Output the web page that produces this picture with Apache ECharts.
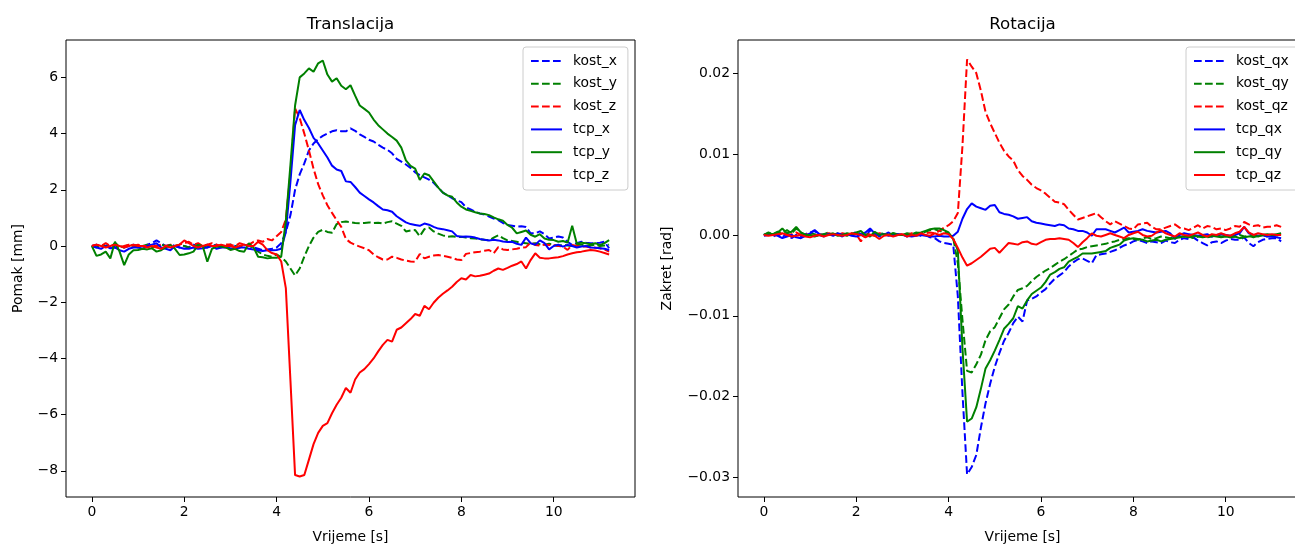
<!DOCTYPE html>
<html><head><meta charset="utf-8">
<script src="https://cdn.jsdelivr.net/npm/echarts@6/dist/echarts.min.js"></script>
<style>html,body{margin:0;padding:0;background:#fff}#c{width:1295px;height:544px}</style>
</head><body><div id="c"></div>
<script>
const T = [0.0,0.1,0.2,0.3,0.4,0.5,0.6,0.7,0.8,0.9,
1.0,1.1,1.2,1.3,1.4,1.5,1.6,1.7,1.8,1.9,
2.0,2.1,2.2,2.3,2.4,2.5,2.6,2.7,2.8,2.9,
3.0,3.1,3.2,3.3,3.4,3.5,3.6,3.7,3.8,3.9,
4.0,4.1,4.2,4.3,4.4,4.5,4.6,4.7,4.8,4.9,
5.0,5.1,5.2,5.3,5.4,5.5,5.6,5.7,5.8,5.9,
6.0,6.1,6.2,6.3,6.4,6.5,6.6,6.7,6.8,6.9,
7.0,7.1,7.2,7.3,7.4,7.5,7.6,7.7,7.8,7.9,
8.0,8.1,8.2,8.3,8.4,8.5,8.6,8.7,8.8,8.9,
9.0,9.1,9.2,9.3,9.4,9.5,9.6,9.7,9.8,9.9,
10.0,10.1,10.2,10.3,10.4,10.5,10.6,10.7,10.8,10.9,
11.0,11.1,11.2];

// ---- Translacija [mm] ----
const kostX = [0.0,0.05,-0.05,0.0,0.05,-0.05,0.0,-0.05,0.0,0.05,
0.0,-0.05,0.05,0.1,0.2,0.1,0.0,0.05,0.0,-0.05,
0.0,-0.05,0.05,0.0,-0.05,0.05,0.0,0.05,-0.05,0.0,
0.05,0.0,-0.05,0.05,0.0,-0.05,-0.1,-0.15,-0.12,-0.1,
-0.05,0.1,0.5,1.1,2.0,2.55,2.94,3.4,3.65,3.8,
3.92,4.0,4.08,4.12,4.08,4.08,4.19,4.1,3.97,3.88,
3.78,3.72,3.6,3.5,3.42,3.3,3.1,3.0,2.9,2.78,
2.62,2.52,2.44,2.36,2.25,2.08,1.9,1.8,1.7,1.63,
1.56,1.38,1.3,1.22,1.16,1.12,1.05,0.98,0.92,0.82,
0.75,0.72,0.69,0.7,0.68,0.45,0.45,0.52,0.42,0.27,
0.3,0.34,0.3,0.15,0.04,0.1,0.15,0.12,0.1,0.1,
0.12,0.15,-0.08];
const kostY = [0.0,-0.05,0.05,0.0,-0.05,0.1,0.0,-0.05,0.05,0.0,
-0.05,0.0,0.05,-0.05,0.0,0.05,0.0,-0.05,0.0,0.05,
0.0,-0.05,0.0,0.05,0.0,-0.05,0.05,0.0,-0.05,0.0,
0.05,0.0,-0.05,0.0,0.05,-0.1,-0.2,-0.3,-0.35,-0.38,
-0.3,-0.4,-0.55,-0.8,-1.05,-0.8,-0.38,0.0,0.3,0.5,
0.58,0.5,0.47,0.78,0.85,0.87,0.85,0.82,0.81,0.82,
0.84,0.82,0.83,0.8,0.85,0.88,0.8,0.72,0.52,0.55,
0.57,0.35,0.6,0.66,0.52,0.44,0.38,0.33,0.35,0.32,
0.33,0.3,0.28,0.27,0.24,0.22,0.2,0.3,0.38,0.28,
0.2,0.18,0.15,0.12,0.1,0.08,0.1,0.06,0.05,0.08,
0.05,0.0,0.05,0.02,0.0,0.03,0.05,0.0,0.02,0.05,
0.0,0.02,0.05];
const kostZ = [0.0,0.05,0.0,0.1,0.0,0.05,-0.05,0.0,0.05,0.0,
0.05,0.0,0.0,0.05,0.0,0.05,0.0,0.05,0.0,0.05,
0.1,0.15,0.05,0.1,0.0,0.05,0.1,0.05,0.0,0.05,
0.05,0.0,0.1,0.05,0.05,0.15,0.2,0.15,0.25,0.2,
0.35,0.5,0.95,2.6,4.9,4.55,4.0,3.4,2.75,2.2,
1.8,1.45,1.18,0.92,0.68,0.25,0.12,0.04,-0.02,-0.08,
-0.15,-0.3,-0.4,-0.48,-0.48,-0.38,-0.42,-0.48,-0.52,-0.55,
-0.56,-0.28,-0.44,-0.38,-0.34,-0.32,-0.35,-0.38,-0.42,-0.48,
-0.5,-0.28,-0.25,-0.22,-0.2,-0.17,-0.14,-0.26,-0.04,-0.12,
-0.14,-0.12,-0.1,-0.06,-0.04,0.12,0.04,0.02,0.05,0.04,
0.03,0.0,-0.02,-0.14,0.04,0.0,-0.02,-0.02,-0.05,-0.06,
-0.08,-0.12,-0.2];
const tcpX = [0.0,-0.05,-0.1,0.0,-0.08,-0.05,-0.15,-0.2,-0.1,-0.05,
-0.05,-0.1,0.0,0.05,0.1,-0.05,-0.1,-0.15,0.0,-0.05,
-0.1,-0.1,-0.05,-0.1,-0.08,-0.05,0.0,-0.1,-0.05,-0.05,
-0.08,-0.1,-0.05,-0.05,-0.1,-0.12,-0.15,-0.18,-0.15,-0.15,
-0.14,-0.1,0.5,2.3,4.3,4.84,4.48,4.2,3.85,3.65,
3.4,3.15,2.86,2.72,2.67,2.3,2.28,2.1,1.9,1.78,
1.66,1.55,1.42,1.3,1.27,1.22,1.06,0.95,0.84,0.78,
0.75,0.72,0.8,0.76,0.68,0.62,0.6,0.56,0.52,0.36,
0.33,0.34,0.33,0.3,0.25,0.22,0.2,0.22,0.2,0.16,
0.14,0.15,0.08,0.04,0.3,0.1,0.04,0.2,0.1,-0.12,
0.0,0.05,-0.02,0.04,0.0,-0.05,-0.02,0.0,-0.05,-0.06,
-0.08,-0.1,-0.14];
const tcpY = [0.0,-0.35,-0.3,-0.2,-0.44,0.15,-0.2,-0.68,-0.3,-0.15,
-0.14,-0.1,-0.12,-0.08,-0.2,-0.15,-0.05,0.04,-0.1,-0.32,
-0.3,-0.26,-0.2,0.04,0.0,-0.56,-0.1,-0.02,-0.02,-0.05,
-0.14,-0.1,-0.18,-0.2,0.1,-0.05,-0.38,-0.4,-0.44,-0.42,
-0.42,-0.38,0.9,2.9,5.0,6.0,6.14,6.32,6.2,6.5,
6.6,6.1,5.85,5.97,5.7,5.58,5.72,5.35,5.0,4.88,
4.75,4.5,4.3,4.15,4.0,3.88,3.75,3.5,3.05,2.85,
2.75,2.35,2.58,2.52,2.3,2.08,1.9,1.8,1.75,1.55,
1.4,1.3,1.25,1.2,1.16,1.14,1.1,1.02,0.95,0.9,
0.75,0.65,0.45,0.5,0.55,0.4,0.33,0.42,0.27,0.22,
0.21,0.15,0.18,0.12,0.72,0.08,0.12,0.1,0.06,0.1,
0.03,0.1,0.21];
const tcpZ = [0.0,0.05,0.0,-0.05,0.0,0.05,0.0,-0.05,0.0,0.05,
0.0,0.0,-0.05,0.0,-0.05,-0.1,0.0,-0.05,0.0,0.05,
0.2,0.1,0.0,-0.05,0.0,0.05,0.0,0.0,0.05,0.0,
0.0,-0.05,0.0,0.05,0.0,0.0,0.15,0.05,-0.15,-0.25,
-0.3,-0.55,-1.5,-4.8,-8.15,-8.2,-8.15,-7.6,-7.05,-6.65,
-6.4,-6.3,-5.95,-5.65,-5.4,-5.05,-5.22,-4.75,-4.5,-4.38,
-4.2,-4.0,-3.75,-3.52,-3.34,-3.4,-2.98,-2.9,-2.75,-2.6,
-2.42,-2.48,-2.13,-2.25,-2.02,-1.84,-1.7,-1.58,-1.45,-1.28,
-1.15,-1.19,-1.03,-1.08,-1.06,-1.02,-0.98,-0.88,-0.8,-0.85,
-0.78,-0.7,-0.64,-0.55,-0.8,-0.5,-0.26,-0.42,-0.44,-0.44,
-0.42,-0.4,-0.36,-0.3,-0.26,-0.22,-0.2,-0.17,-0.14,-0.16,
-0.2,-0.25,-0.3];

// ---- Rotacija [rad] ----
const kostQx = [0.0,0.0002,-0.0002,0.0001,-0.0003,0.0002,-0.0004,0.0,-0.0002,0.0001,
0.0003,0.0005,0.0,-0.0002,0.0002,0.0,0.0001,-0.0002,0.0002,0.0,
0.0004,0.0001,-0.0003,0.0006,0.0002,-0.0002,0.0,0.0003,-0.0001,0.0,
0.0001,-0.0002,0.0,0.0002,-0.0001,0.0,-0.0003,-0.0004,-0.0008,-0.001,
-0.0011,-0.0012,-0.0076,-0.0195,-0.0296,-0.0287,-0.0272,-0.0238,-0.0208,-0.0184,
-0.0163,-0.0146,-0.0131,-0.0121,-0.0109,-0.0101,-0.0107,-0.0081,-0.0079,-0.0076,
-0.0071,-0.0067,-0.006,-0.0054,-0.005,-0.0046,-0.0039,-0.0034,-0.003,-0.0029,
-0.0032,-0.0035,-0.0025,-0.0024,-0.0023,-0.0021,-0.0019,-0.0016,-0.0013,-0.0011,
-0.0008,-0.0006,-0.0008,-0.001,-0.0008,-0.0009,-0.001,-0.0007,-0.0009,-0.001,
-0.0006,-0.0004,-0.0005,-0.0003,-0.0007,-0.001,-0.0013,-0.0009,-0.0008,-0.001,
-0.0007,-0.0005,-0.0006,-0.0006,-0.0003,-0.001,-0.0014,-0.0009,-0.0006,-0.0005,
-0.0004,-0.0004,-0.0008];
const kostQy = [0.0,0.0003,0.0001,0.0004,0.0002,0.0006,0.0002,0.0008,0.0003,0.0,
0.0002,0.0001,-0.0002,0.0001,0.0003,0.0,0.0002,0.0001,-0.0001,0.0002,
0.0001,0.0003,0.0,0.0002,-0.0001,0.0003,0.0001,0.0,0.0002,0.0001,
0.0,0.0002,0.0001,0.0003,0.0002,0.0004,0.0006,0.0007,0.0005,0.0003,
0.0002,-0.0004,-0.0035,-0.0105,-0.0168,-0.017,-0.016,-0.0148,-0.013,-0.0119,
-0.0114,-0.0103,-0.0092,-0.0086,-0.0076,-0.0068,-0.0066,-0.0063,-0.0057,-0.0052,
-0.0048,-0.0044,-0.0041,-0.0037,-0.0033,-0.003,-0.0026,-0.0022,-0.0018,-0.0017,
-0.0015,-0.0014,-0.0013,-0.0012,-0.0011,-0.0009,-0.0008,-0.0006,-0.0005,-0.0004,
-0.0005,-0.0006,-0.0004,-0.0003,-0.0005,-0.0004,-0.0002,-0.0003,-0.0004,-0.0002,
-0.0003,-0.0001,-0.0002,-0.0004,-0.0002,-0.0001,-0.0003,-0.0002,0.0,-0.0002,
-0.0001,-0.0003,-0.0002,0.0,-0.0002,-0.0001,-0.0003,-0.0001,0.0,-0.0002,
-0.0001,0.0,-0.0002];
const kostQz = [0.0,0.0001,-0.0001,0.0,0.0002,0.0,0.0001,0.0003,0.0,0.0001,
0.0,-0.0002,0.0001,0.0,0.0002,0.0001,0.0,0.0002,0.0001,0.0,
0.0001,-0.0008,0.0,0.0001,0.0,0.0002,0.0001,0.0,0.0002,0.0,
0.0001,0.0,0.0002,0.0001,0.0,0.0002,0.0003,0.0002,0.0005,0.0009,
0.0012,0.0017,0.0027,0.011,0.0217,0.0208,0.02,0.0178,0.0152,0.0138,
0.0126,0.0114,0.0104,0.0097,0.0092,0.008,0.0073,0.0068,0.0062,0.0058,
0.0055,0.0051,0.0046,0.0041,0.004,0.0038,0.0031,0.0025,0.0019,0.0021,
0.0023,0.0025,0.0027,0.0022,0.0017,0.0013,0.0017,0.0014,0.0011,0.0008,
0.0007,0.0013,0.0014,0.0015,0.001,0.0007,0.0007,0.0009,0.0011,0.0013,
0.0009,0.0008,0.0006,0.0009,0.0012,0.0008,0.0011,0.001,0.0007,0.0008,
0.0006,0.0008,0.0011,0.001,0.0016,0.0013,0.0011,0.0012,0.0009,0.001,
0.001,0.0012,0.001];
const tcpQx = [-0.0001,0.0,0.0001,-0.0001,-0.0004,-0.0002,0.0,-0.0003,-0.0004,-0.0001,
0.0002,0.0006,0.0001,0.0,0.0001,-0.0001,0.0002,0.0,0.0001,-0.0001,
-0.0002,0.0,0.0003,0.0008,0.0002,0.0,0.0001,-0.0001,0.0,0.0001,
0.0,-0.0001,-0.0002,-0.0001,0.0,-0.0001,-0.0002,-0.0002,-0.0001,-0.0002,
-0.0002,-0.0001,0.0004,0.002,0.0032,0.0039,0.0035,0.0033,0.0031,0.0036,
0.0037,0.0028,0.0026,0.0025,0.0023,0.002,0.0021,0.0022,0.0017,0.0015,
0.0014,0.0013,0.0012,0.0011,0.0013,0.0012,0.0008,0.0007,0.0005,0.0005,
0.0003,-0.0001,0.0007,0.0007,0.0007,0.0005,0.0003,0.0006,0.0009,0.0003,
0.0004,0.0005,0.0007,0.0005,0.0004,0.0003,0.0004,0.0005,0.0002,-0.0005,
0.0,0.0002,0.0001,0.0,-0.0001,0.0,0.0001,-0.0002,0.0,0.0001,
0.0,-0.0001,0.0,0.0002,0.001,0.0002,0.0,-0.0001,0.0,-0.0002,
-0.0002,-0.0003,-0.0004];
const tcpQy = [0.0,0.0002,0.0001,0.0003,0.0008,0.0002,0.0004,0.001,0.0003,0.0,
0.0,-0.0002,0.0,0.0001,0.0,0.0002,-0.0001,0.0,0.0002,0.0001,
0.0003,0.0005,0.0,-0.0002,0.0004,0.0,0.0001,0.0,0.0002,0.0,
0.0,0.0001,0.0,0.0002,0.0003,0.0005,0.0007,0.0008,0.0008,0.0006,
0.0003,-0.0005,-0.0019,-0.014,-0.0231,-0.0227,-0.0213,-0.019,-0.0165,-0.0155,
-0.0143,-0.013,-0.0116,-0.011,-0.0103,-0.0088,-0.0091,-0.0081,-0.0073,-0.0069,
-0.0065,-0.0058,-0.0049,-0.0046,-0.0042,-0.004,-0.0033,-0.003,-0.0027,-0.0023,
-0.0023,-0.0023,-0.0022,-0.0021,-0.002,-0.0016,-0.0014,-0.0012,-0.0007,-0.0005,
-0.0004,-0.0005,-0.0006,-0.0008,-0.0007,-0.0006,-0.0008,-0.0006,-0.0005,-0.0004,
-0.0003,-0.0002,-0.0003,-0.0001,-0.0002,-0.0003,-0.0002,-0.0001,-0.0002,-0.0003,
-0.0002,-0.0003,-0.0002,-0.0004,-0.0003,-0.0002,-0.0001,-0.0002,0.0,0.0001,
0.0,0.0001,0.0002];
const tcpQz = [0.0,-0.0001,0.0,0.0001,0.0002,0.0,-0.0002,-0.0001,0.0,-0.0002,
-0.0003,-0.0001,0.0,-0.0002,0.0,0.0001,0.0,-0.0001,0.0,0.0002,
0.0001,0.0,-0.0003,0.0,-0.0001,-0.0005,-0.0001,0.0,-0.0002,0.0,
0.0001,-0.0002,0.0,-0.0001,0.0002,0.0,-0.0001,0.0002,0.0,0.0002,
0.0001,-0.0005,-0.0016,-0.0028,-0.0038,-0.0035,-0.0031,-0.0027,-0.0022,-0.0017,
-0.0016,-0.0022,-0.0016,-0.001,-0.0011,-0.0012,-0.0009,-0.0008,-0.0011,-0.0012,
-0.0009,-0.0006,-0.0005,-0.0005,-0.0004,-0.0005,-0.0006,-0.001,-0.0015,-0.0009,
-0.0004,0.0002,-0.0001,-0.0002,0.0,0.0002,0.0,-0.0002,-0.0004,0.0,
0.0002,0.0004,0.0,-0.0002,-0.0001,0.0003,0.0006,0.0002,0.0,-0.0002,
0.0002,0.0,-0.0001,0.0001,0.0003,0.0,-0.0002,0.0001,0.0,0.0002,
0.0,-0.0001,0.0002,0.0004,0.001,0.0003,0.0,0.0002,0.0001,0.0,
0.0001,0.0,0.0];

const xTicks = [0, 2, 4, 6, 8, 10];
const yTicksL = [-8, -6, -4, -2, 0, 2, 4, 6];
const yTicksR = [-0.03, -0.02, -0.01, 0.00, 0.01, 0.02];
const namesL = ['kost_x', 'kost_y', 'kost_z', 'tcp_x', 'tcp_y', 'tcp_z'];
const namesR = ['kost_qx', 'kost_qy', 'kost_qz', 'tcp_qx', 'tcp_qy', 'tcp_qz'];

const FONT = 'DejaVu Sans';
const FS = 13.9;
const BLUE = '#0000ff', GREEN = '#008000', RED = '#ff0000';
const DASH = [7.7, 3.3];
const minus = s => s.replace('-', '\u2212');

function xAxisCfg(gi) {
  return {
    type: 'value', gridIndex: gi, min: -0.56, max: 11.76, position: 'bottom',
    name: 'Vrijeme [s]', nameLocation: 'middle', nameGap: 33,
    nameTextStyle: {fontSize: FS, color: '#000', fontFamily: FONT},
    axisLine: {show: false, onZero: false}, splitLine: {show: false},
    axisTick: {show: true, inside: false, length: 5, lineStyle: {color: '#000', width: 1}, customValues: xTicks},
    axisLabel: {customValues: xTicks, margin: 8, color: '#000', fontSize: FS, fontFamily: FONT,
      formatter: v => minus(String(Math.round(v)))}
  };
}
function yAxisCfg(gi, min, max, ticks, name, gap, fmt) {
  return {
    type: 'value', gridIndex: gi, min: min, max: max, position: 'left',
    name: name, nameLocation: 'middle', nameGap: gap,
    nameTextStyle: {fontSize: FS, color: '#000', fontFamily: FONT},
    axisLine: {show: false, onZero: false}, splitLine: {show: false},
    axisTick: {show: true, inside: false, length: 5, lineStyle: {color: '#000', width: 1}, customValues: ticks},
    axisLabel: {customValues: ticks, margin: 8, color: '#000', fontSize: FS, fontFamily: FONT, formatter: fmt}
  };
}
function ser(name, vals, color, dashed, gi) {
  return {
    name: name, type: 'line', xAxisIndex: gi, yAxisIndex: gi,
    data: T.map((t, i) => [t, vals[i]]),
    symbol: 'none', showSymbol: false, silent: true, animation: false,
    lineStyle: {color: color, width: 2, type: dashed ? DASH : 'solid'},
    itemStyle: {color: color}
  };
}
function legendCfg(names, left, padRight) {
  return {
    data: names, orient: 'vertical', left: left, top: 47,
    itemWidth: 31, itemHeight: 10, itemGap: 8.8,
    padding: [7, padRight, 8, 7],
    backgroundColor: 'rgba(255,255,255,0.8)', borderColor: '#cccccc', borderWidth: 1, borderRadius: 3,
    selectedMode: false,
    itemStyle: {opacity: 0},
    textStyle: {fontSize: FS, color: '#000', fontFamily: FONT, lineHeight: 14, padding: [0, 0, 0, 6]}
  };
}

const chart = echarts.init(document.getElementById('c'), null, {renderer: 'canvas'});
chart.setOption({
  animation: false,
  backgroundColor: '#ffffff',
  textStyle: {fontFamily: FONT},
  title: [
    {text: 'Translacija', left: 350.5, top: 16, textAlign: 'center', padding: 0,
      textStyle: {fontSize: 16.7, fontWeight: 'normal', color: '#000', fontFamily: FONT}},
    {text: 'Rotacija', left: 1022.5, top: 16, textAlign: 'center', padding: 0,
      textStyle: {fontSize: 16.7, fontWeight: 'normal', color: '#000', fontFamily: FONT}}
  ],
  grid: [
    {left: 66, top: 40, width: 569, height: 457, containLabel: false, outerBoundsMode: 'none',
      show: true, borderColor: '#000', borderWidth: 1, backgroundColor: 'transparent'},
    {left: 738, top: 40, width: 569, height: 457, containLabel: false, outerBoundsMode: 'none',
      show: true, borderColor: '#000', borderWidth: 1, backgroundColor: 'transparent'}
  ],
  xAxis: [xAxisCfg(0), xAxisCfg(1)],
  yAxis: [
    yAxisCfg(0, -8.93, 7.33, yTicksL, 'Pomak [mm]', 41, v => minus(String(Math.round(v)))),
    yAxisCfg(1, -0.0324, 0.0241, yTicksR, 'Zakret [rad]', 64, v => minus((Math.abs(v) < 1e-9 ? 0 : v).toFixed(2)))
  ],
  legend: [legendCfg(namesL, 523, 11), legendCfg(namesR, 1186, 16)],
  series: [
    ser(namesL[0], kostX, BLUE, true, 0),
    ser(namesL[1], kostY, GREEN, true, 0),
    ser(namesL[2], kostZ, RED, true, 0),
    ser(namesL[3], tcpX, BLUE, false, 0),
    ser(namesL[4], tcpY, GREEN, false, 0),
    ser(namesL[5], tcpZ, RED, false, 0),
    ser(namesR[0], kostQx, BLUE, true, 1),
    ser(namesR[1], kostQy, GREEN, true, 1),
    ser(namesR[2], kostQz, RED, true, 1),
    ser(namesR[3], tcpQx, BLUE, false, 1),
    ser(namesR[4], tcpQy, GREEN, false, 1),
    ser(namesR[5], tcpQz, RED, false, 1)
  ]
});
</script></body></html>
